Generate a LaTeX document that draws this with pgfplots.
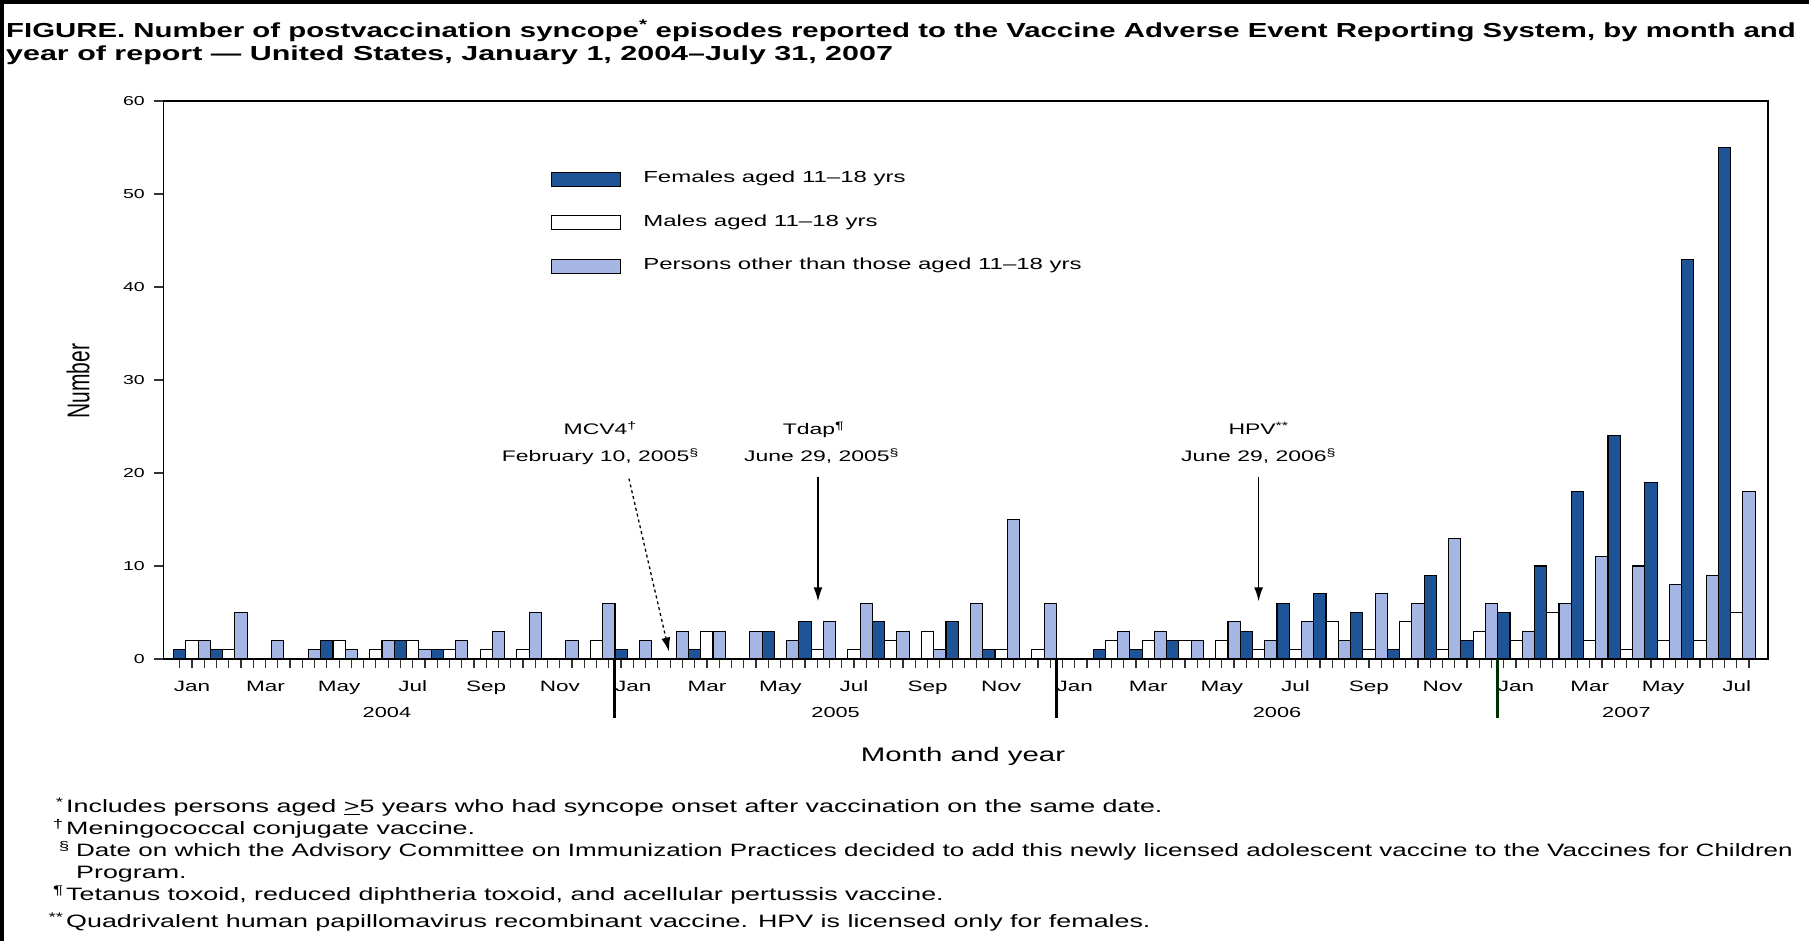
\documentclass[border=0pt]{standalone}
\usepackage{pgfplots}
\pgfplotsset{compat=1.18}
\usepackage{pgfplotstable}
\usepackage{fontspec}
\setmainfont{Liberation Sans}[FakeStretch=1.5]
\newfontfamily\plainfont{Liberation Sans}
\newfontfamily\narrowA{Liberation Sans}[FakeStretch=1.446]
\newfontfamily\narrowB{Liberation Sans}[FakeStretch=1.454]
\usetikzlibrary{arrows.meta}
\definecolor{fdark}{RGB}{30,84,150}
\definecolor{olight}{RGB}{166,182,228}

\pgfplotstableread{
i F M O
0 1 2 2
1 1 1 5
2 0 0 2
3 0 0 1
4 2 2 1
5 0 1 2
6 2 2 1
7 1 1 2
8 0 1 3
9 0 1 5
10 0 0 2
11 0 2 6
12 1 0 2
13 0 0 3
14 1 3 3
15 0 0 3
16 3 0 2
17 4 1 4
18 0 1 6
19 4 2 3
20 0 3 1
21 4 0 6
22 1 1 15
23 0 1 6
24 0 0 0
25 1 2 3
26 1 2 3
27 2 2 2
28 0 2 4
29 3 1 2
30 6 1 4
31 7 4 2
32 5 1 7
33 1 4 6
34 9 1 13
35 2 3 6
36 5 2 3
37 10 5 6
38 18 2 11
39 24 1 10
40 19 2 8
41 43 2 9
42 55 5 18
}\datatable

\begin{document}
\begin{tikzpicture}[x=1pt,y=1pt]
\useasboundingbox (0,0) rectangle (1809,941);
\fill[white] (0,0) rectangle (1809,941);
\begin{axis}[
  at={(163.3pt,282pt)}, anchor=south west,
  scale only axis, width=1604.7pt, height=558pt,
  xmin=-0.78, xmax=42.85, ymin=0, ymax=60,
  clip=false,
  axis line style={line width=1.3pt},
  ytick={0,10,...,60},
  xtick={0,...,42},
  xticklabels={Jan,,Mar,,May,,Jul,,Sep,,Nov,,Jan,,Mar,,May,,Jul,,Sep,,Nov,,Jan,,Mar,,May,,Jul,,Sep,,Nov,,Jan,,Mar,,May,,Jul},
  minor x tick num=2,
  extra x ticks={-0.3333,42.3333}, extra x tick labels={},
  extra x tick style={grid=none},
  tick align=outside, tick pos=left,
  major tick length=9pt, minor tick length=9pt,
  every tick/.style={line width=1.2pt, black!80},
  /pgf/number format/assume math mode=true,
  yticklabel style={font=\fontsize{13}{15}\selectfont, anchor=east, xshift=-6pt},
  xticklabel style={font=\fontsize{15}{17}\selectfont, anchor=base, yshift=-23.5pt},
  legend style={draw=none, fill=none, at={(0.2416,0.874)}, anchor=north west,
    inner sep=0pt, row sep=28.5pt, font=\fontsize{16}{18}\selectfont,
    nodes={inner sep=0pt, text height=11pt, text depth=4pt},
    /tikz/every odd column/.append style={column sep=22pt}},
  legend cell align=left,
]
\addplot[ybar, bar width=0.3333, bar shift=0pt, fill=fdark, draw=black, line width=1.1pt,
  legend image code/.code={\draw[fill=fdark, draw=black, line width=1.1pt] (0pt,-7pt) rectangle (69pt,7pt);}]
  table[x expr=\thisrow{i}-0.3333, y=F]{\datatable};
\addlegendentry{Females aged 11--18 yrs}
\addplot[ybar, bar width=0.3333, bar shift=0pt, fill=white, draw=black, line width=1.1pt,
  legend image code/.code={\draw[fill=white, draw=black, line width=1.1pt] (0pt,-7pt) rectangle (69pt,7pt);}]
  table[x=i, y=M]{\datatable};
\addlegendentry{Males aged 11--18 yrs}
\addplot[ybar, bar width=0.3333, bar shift=0pt, fill=olight, draw=black, line width=1.1pt,
  legend image code/.code={\draw[fill=olight, draw=black, line width=1.1pt] (0pt,-7pt) rectangle (69pt,7pt);}]
  table[x expr=\thisrow{i}+0.3333, y=O]{\datatable};
\addlegendentry{Persons other than those aged 11--18 yrs}

% year boundaries
\draw[line width=3pt, black] (axis cs:11.5,0) -- ++(0pt,-59pt);
\draw[line width=3pt, black] (axis cs:23.5,0) -- ++(0pt,-59pt);
\draw[line width=3pt, black!70!green!60!black] (axis cs:35.5,0) -- ++(0pt,-59pt);
% year labels
\node[anchor=base, font=\fontsize{14.5}{17}\selectfont] at ([yshift=-58.5pt]axis cs:5.3,0) {2004};
\node[anchor=base, font=\fontsize{14.5}{17}\selectfont] at ([yshift=-58.5pt]axis cs:17.5,0) {2005};
\node[anchor=base, font=\fontsize{14.5}{17}\selectfont] at ([yshift=-58.5pt]axis cs:29.5,0) {2006};
\node[anchor=base, font=\fontsize{14.5}{17}\selectfont] at ([yshift=-58.5pt]axis cs:39,0) {2007};
% annotations
\node[anchor=base, font=\fontsize{15.3}{17}\selectfont] at (axis cs:11.1,24.14) {MCV4\textsuperscript{†}};
\node[anchor=base, font=\fontsize{15.3}{17}\selectfont] at (axis cs:11.1,21.24) {February 10, 2005\textsuperscript{§}};
\node[anchor=base, font=\fontsize{15.3}{17}\selectfont] at (axis cs:16.9,24.14) {Tdap\textsuperscript{¶}};
\node[anchor=base, font=\fontsize{15.3}{17}\selectfont] at (axis cs:17.12,21.24) {June 29, 2005\textsuperscript{§}};
\node[anchor=base, font=\fontsize{15.3}{17}\selectfont] at (axis cs:29.0,24.14) {HPV\textsuperscript{**}};
\node[anchor=base, font=\fontsize{15.3}{17}\selectfont] at (axis cs:29.0,21.24) {June 29, 2006\textsuperscript{§}};
\draw[line width=1.3pt, dashed, -{Latex[length=14pt,width=9pt]}] (axis cs:11.88,19.4) -- (axis cs:12.97,0.8);
\draw[line width=1.5pt, -{Latex[length=14pt,width=9pt]}] (axis cs:17.02,19.6) -- (axis cs:17.02,6.2);
\draw[line width=1.5pt, -{Latex[length=14pt,width=9pt]}] (axis cs:29.0,19.6) -- (axis cs:29.0,6.2);
\end{axis}

% axis titles
\node[rotate=90] at (78,560) {\scalebox{1}[1.5]{\plainfont\fontsize{21}{24}\selectfont Number}};
\node[font=\fontsize{19.6}{22}\selectfont] at (963,185) {Month and year};

% title
\node[anchor=base west, font=\narrowA\bfseries\fontsize{20.3}{23}\selectfont, inner sep=0pt] at (6,903.5) {FIGURE. Number of postvaccination syncope\textsuperscript{*} episodes reported to the Vaccine Adverse Event Reporting System, by month and};
\node[anchor=base west, font=\bfseries\fontsize{20.3}{23}\selectfont, inner sep=0pt] at (6,880.5) {year of report --- United States, January 1, 2004--July 31, 2007};

% footnotes
\begin{scope}[every node/.style={font=\fontsize{17.9}{20}\selectfont, inner sep=0pt}]
\node[anchor=base east] at (64,128.5) {\textsuperscript{*}};
\node[anchor=base west] at (66,128.5) {Includes persons aged \underline{>}5 years who had syncope onset after vaccination on the same date.};
\node[anchor=base east] at (64,106.5) {\textsuperscript{†}};
\node[anchor=base west] at (66,106.5) {Meningococcal conjugate vaccine.};
\node[anchor=base east] at (70,84.5) {\textsuperscript{§}};
\node[anchor=base west, font=\narrowB\fontsize{17.9}{20}\selectfont] at (76,84.5) {Date on which the Advisory Committee on Immunization Practices decided to add this newly licensed adolescent vaccine to the Vaccines for Children};
\node[anchor=base west] at (76,62.5) {Program.};
\node[anchor=base east] at (64,40.5) {\textsuperscript{¶}};
\node[anchor=base west] at (66,40.5) {Tetanus toxoid, reduced diphtheria toxoid, and acellular pertussis vaccine.};
\node[anchor=base east] at (64,13.5) {\textsuperscript{**}};
\node[anchor=base west] at (66,13.5) {Quadrivalent human papillomavirus recombinant vaccine. HPV is licensed only for females.};
\end{scope}

% outer frame (top and left)
\draw[line width=4pt] (2,0) -- (2,939) -- (1809,939);
\end{tikzpicture}
\end{document}
